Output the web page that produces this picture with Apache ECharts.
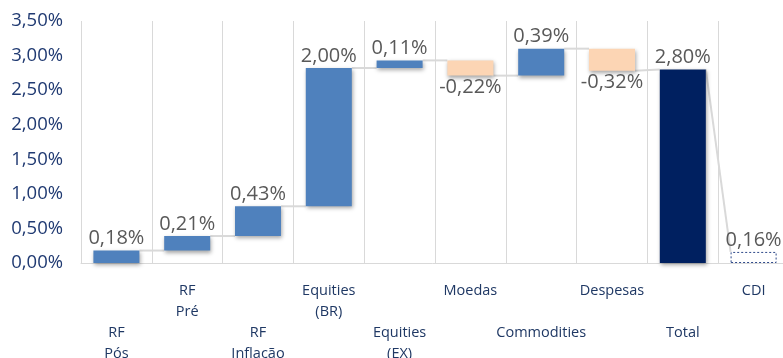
<!DOCTYPE html>
<html>
<head>
<meta charset="utf-8">
<script src="https://cdn.jsdelivr.net/npm/echarts@6/dist/echarts.min.js"></script>
<style>
  html, body { margin: 0; padding: 0; background: #ffffff; }
  #chart { width: 783px; height: 358px; }
</style>
</head>
<body>
<div id="chart"></div>
<script>
// Contribuição por classe de ativo (waterfall), em %
const categories = ['RF\nPós', 'RF\nPré', 'RF\nInflação', 'Equities\n(BR)', 'Equities\n(EX)',
                    'Moedas', 'Commodities', 'Despesas', 'Total', 'CDI'];
const contributions = [0.18, 0.21, 0.43, 2.00, 0.11, -0.22, 0.39, -0.32, 2.80, 0.16];
// 'step' = parcela acumulada, 'total' = barra cheia desde zero, 'ref' = referência (CDI)
const barKinds = ['step', 'step', 'step', 'step', 'step', 'step', 'step', 'step', 'total', 'ref'];
const yTicks = { min: 0, max: 3.5, interval: 0.5 };

const BLUE = '#4F81BD', PEACH = '#FCD5B4', NAVY = '#002060';
const FONT = 'Open Sans';

// Build running start/end levels for each bar
const starts = [], ends = [];
let running = 0;
contributions.forEach((v, i) => {
  if (barKinds[i] === 'step') {
    starts.push(running);
    running += v;
    ends.push(running);
  } else {
    starts.push(0);
    ends.push(v);
  }
});
const baseData = contributions.map((v, i) => Math.min(starts[i], ends[i]));
const sizeData = contributions.map((v, i) => ({
  value: Math.abs(v),
  raw: v,
  itemStyle: barKinds[i] === 'total' ? { color: NAVY }
    : barKinds[i] === 'ref' ? { color: '#ffffff', borderColor: '#2F4A8A', borderWidth: 1, borderType: [2, 2], shadowBlur: 0, shadowOffsetX: 0, shadowOffsetY: 0 }
    : { color: v < 0 ? PEACH : BLUE },
  label: { position: v < 0 ? 'bottom' : 'top' }
}));

const fmtPct = v => v.toFixed(2).replace('.', ',') + '%';

// Connector segments: from the end level of bar i to the level where bar i+1 begins
const connectors = [];
for (let i = 0; i < contributions.length - 1; i++) {
  const from = ends[i];
  const k = barKinds[i + 1];
  const to = k === 'step' ? starts[i + 1] : ends[i + 1];
  connectors.push([i, from, to]);
}

const chart = echarts.init(document.getElementById('chart'));
chart.setOption({
  animation: false,
  grid: { left: 81, right: -6, top: 21, bottom: 95, outerBoundsMode: 'none' },
  xAxis: {
    type: 'category',
    data: categories,
    boundaryGap: true,
    axisLine: { lineStyle: { color: '#D9D9D9', width: 1 } },
    axisTick: { show: false },
    splitLine: { show: true, interval: 0, lineStyle: { color: '#D9D9D9', width: 1 } },
    axisLabel: {
      interval: 0,
      margin: 17,
      color: '#1F3864',
      fontFamily: FONT,
      fontSize: 14.5,
      lineHeight: 21,
      formatter: (val, idx) => (idx % 2 === 0 ? '\n\n' : '') + val
    }
  },
  yAxis: {
    type: 'value',
    min: yTicks.min,
    max: yTicks.max,
    interval: yTicks.interval,
    axisLine: { show: false },
    axisTick: { show: false },
    splitLine: { show: false },
    axisLabel: {
      margin: 18,
      color: '#203A72',
      fontFamily: FONT,
      fontSize: 18.5,
      formatter: v => fmtPct(v)
    }
  },
  series: [
    {
      type: 'custom',
      z: 1,
      data: connectors,
      renderItem: (params, api) => {
        const i = api.value(0);
        const bw = api.size([1, 0])[0] * 0.65;
        const p1 = api.coord([i, api.value(1)]);
        const p2 = api.coord([i + 1, api.value(2)]);
        return {
          type: 'line',
          shape: { x1: p1[0] + bw / 2, y1: p1[1], x2: p2[0] - bw / 2, y2: p2[1] },
          style: { stroke: '#D9D9D9', lineWidth: 2 }
        };
      }
    },
    {
      type: 'bar',
      stack: 'wf',
      barWidth: '65%',
      z: 2,
      itemStyle: { color: 'transparent' },
      emphasis: { disabled: true },
      data: baseData
    },
    {
      type: 'bar',
      stack: 'wf',
      barWidth: '65%',
      z: 3,
      itemStyle: { shadowBlur: 4, shadowOffsetX: 1, shadowOffsetY: 2, shadowColor: 'rgba(0,0,0,0.35)' },
      label: {
        show: true,
        color: '#595959',
        fontFamily: FONT,
        fontSize: 20,
        distance: 2,
        formatter: p => fmtPct(p.data.raw)
      },
      data: sizeData
    }
  ]
});
</script>
</body>
</html>
